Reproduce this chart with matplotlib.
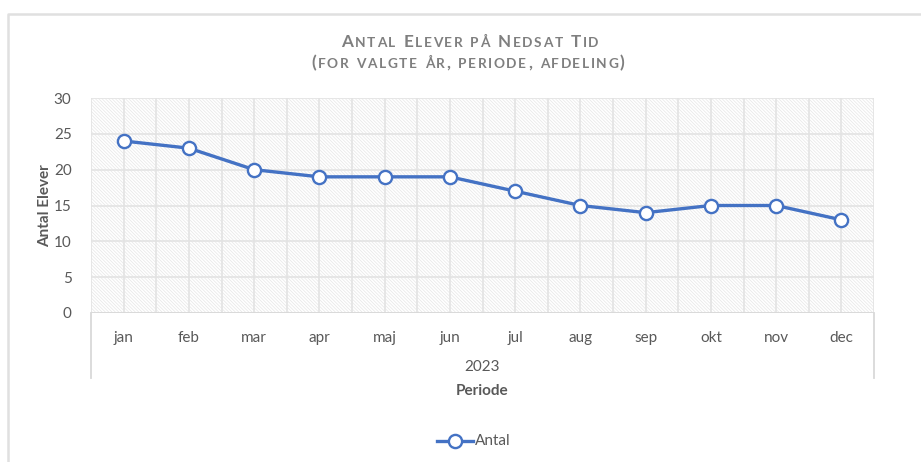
import numpy as np
import matplotlib
matplotlib.use("Agg")
import matplotlib.pyplot as plt
from matplotlib.lines import Line2D
from matplotlib.patches import Rectangle

# Data
months = ["jan", "feb", "mar", "apr", "maj", "jun", "jul", "aug", "sep", "okt", "nov", "dec"]
antal = [24, 23, 20, 19, 19, 19, 17, 15, 14, 15, 15, 13]
year_label = "2023"
y_ticks = [0, 5, 10, 15, 20, 25, 30]

title1 = "Antal Elever på Nedsat Tid"
title2 = "(for valgte år, periode, afdeling)"

W, H = 921, 462
txt = "#595959"
blue = "#4472C4"
grid = "#e3e3e3"

plt.rcParams['font.family'] = ['Lato', 'DejaVu Sans']
plt.rcParams['hatch.linewidth'] = 0.5

fig = plt.figure(figsize=(W / 100, H / 100), dpi=100)
ax = fig.add_axes([91 / W, 1 - 313 / H, (874 - 91) / W, (313 - 98) / H])

x = np.arange(len(months))

# hatched background
ax.add_patch(Rectangle((-0.5, 0), len(months), 30, facecolor="white",
                       edgecolor="#e6e6e6", hatch="\\" * 10, linewidth=0, zorder=0))

for v in np.arange(-0.5, len(months), 0.5):
    ax.axvline(v, color=grid, lw=1.2, zorder=1)
for t in y_ticks:
    ax.axhline(t, color=grid, lw=1.2, zorder=1)
ax.axhline(0, color="#d9d9d9", lw=1.3, zorder=2)

ax.plot(x, antal, color=blue, lw=2.4, marker="o", markersize=9.5,
        markerfacecolor="white", markeredgecolor=blue, markeredgewidth=1.7,
        zorder=3, label="Antal")

ax.set_xlim(-0.5, len(months) - 0.5)
ax.set_ylim(0, 30)
ax.set_yticks(y_ticks)
ax.set_xticks(x)
ax.set_xticklabels(months)
ax.tick_params(axis="both", length=0, labelsize=11, colors=txt)
ax.tick_params(axis="x", pad=13)
ax.tick_params(axis="y", pad=14)
for s in ax.spines.values():
    s.set_visible(False)

ax.set_ylabel("Antal Elever", fontsize=11, fontweight="bold", color=txt, labelpad=1)

# multi-level category axis
for px in (91, 874):
    fig.add_artist(Line2D([px / W, px / W], [1 - 313 / H, 1 - 378 / H],
                          transform=fig.transFigure, color="#d9d9d9", lw=1.3))
fig.text(482 / W, 1 - 367 / H, year_label, ha="center", va="center", fontsize=11, color=txt)
fig.text(482 / W, 1 - 391 / H, "Periode", ha="center", va="center", fontsize=11,
         fontweight="bold", color=txt)

# chart frame (top and left visible)
fig.add_artist(Line2D([8 / W, 8 / W, 1.0], [0.0, 1 - 14 / H, 1 - 14 / H],
                      transform=fig.transFigure, color="#e0e0e0", lw=1.8))

# legend
fig.add_artist(Line2D([437 / W, 473 / W], [1 - 441 / H] * 2, transform=fig.transFigure,
                      color=blue, lw=2.4))
fig.add_artist(Line2D([455 / W], [1 - 441 / H], transform=fig.transFigure, marker="o",
                      markersize=9.5, markerfacecolor="white", markeredgecolor=blue,
                      markeredgewidth=1.7, linestyle="none"))
fig.text(475 / W, 1 - 441 / H, "Antal", ha="left", va="center", fontsize=11, color=txt)


def small_caps(text, cx, cy, big=12.3, small=9.8, gap=1.6, color="#7f7f7f"):
    renderer = fig.canvas.get_renderer()
    items = []
    for ch in text:
        size = big if (ch.isupper() or not ch.isalpha()) else small
        t = fig.text(0, 1 - cy / H, ch.upper(), fontsize=size, fontweight="bold",
                     color=color, ha="left", va="baseline")
        w = t.get_window_extent(renderer).width
        if ch == " ":
            w = size * 0.4
        items.append((t, w))
    total = sum(w for _, w in items) + gap * (len(items) - 1)
    pos = cx - total / 2
    for t, w in items:
        t.set_x(pos / W)
        pos += w + gap


small_caps(title1, 470, 47)
small_caps(title2, 468, 68)

fig.savefig("out.png", dpi=100)
